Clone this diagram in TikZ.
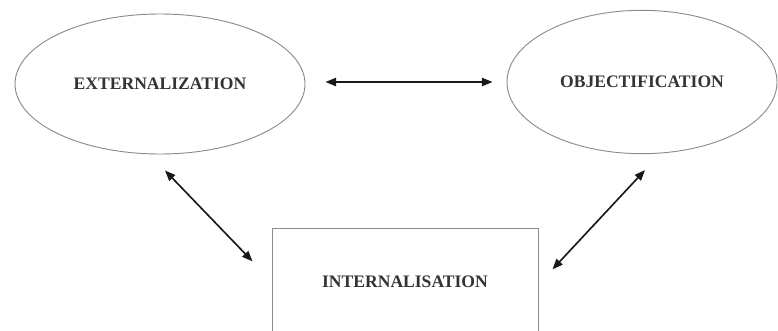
\documentclass[tikz,border=0pt]{standalone}
\usepackage{fontspec}
\setmainfont{Liberation Serif}
\usepackage{tikz}
\usetikzlibrary{arrows.meta,shapes.geometric,positioning,calc}

\begin{document}
\begin{tikzpicture}[x=0.03cm,y=-0.03cm,
  stage/.style={draw=black!45, line width=0.8pt, text=black!80,
    font=\bfseries\fontsize{15}{17}\selectfont},
  link/.style={{Triangle[length=9pt,width=7pt]}-{Triangle[length=9pt,width=7pt]}, line width=1.4pt, black!90}]
% Frame of the picture
\useasboundingbox (0,0) rectangle (778,330);
\clip (0,0) rectangle (778,330);
% The three moments
\node[stage, ellipse, minimum width=8.7cm, minimum height=4.2cm] (ext) at (160,84) {EXTERNALIZATION};
\node[stage, ellipse, minimum width=8.1cm, minimum height=4.3cm] (obj) at (642,82) {OBJECTIFICATION};
\node[stage, rectangle, minimum width=7.98cm, minimum height=3.4cm] (int) at (405,285.5) {};
\node[stage, draw=none] (intl) at (405,282) {INTERNALISATION};
% Two-way links
\draw[link] ([shift={(20,-2)}]ext.east) -- ([shift={(-14,0)}]obj.west);
\draw[link] ([shift={(5,16)}]ext.south) -- ([shift={(-19,33)}]int.north west);
\draw[link] ([shift={(3,16)}]obj.south) -- ([shift={(14,41)}]int.north east);
\end{tikzpicture}
\end{document}
